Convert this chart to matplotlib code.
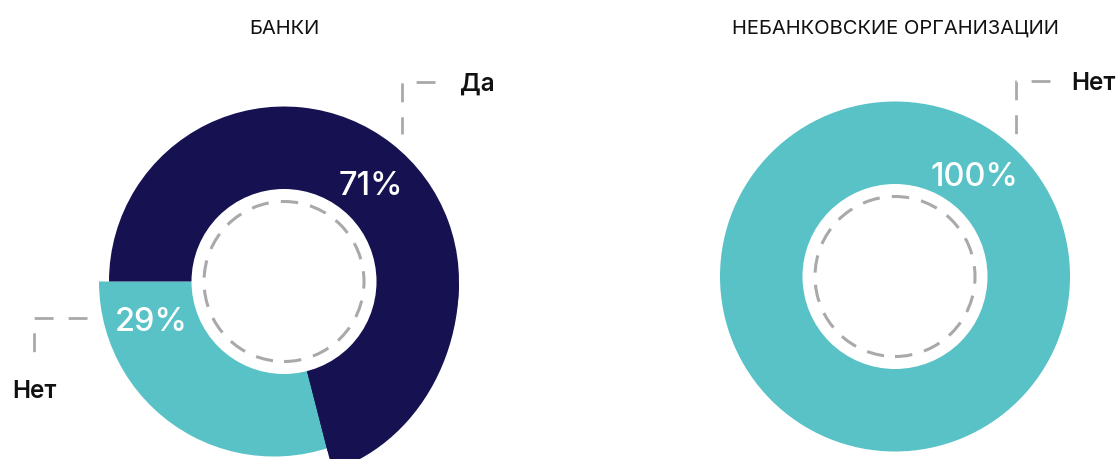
import matplotlib
matplotlib.use("Agg")
import matplotlib.pyplot as plt
from matplotlib.patches import Circle, Wedge, Ellipse

# ---- data ----
titles = ["БАНКИ", "НЕБАНКОВСКИЕ ОРГАНИЗАЦИИ"]
bank_categories = ["Да", "Нет"]
bank_values = [71, 29]
nonbank_categories = ["Нет"]
nonbank_values = [100]
pct_labels_bank = ["71%", "29%"]
pct_labels_nonbank = ["100%"]

DARK = "#161252"
TEAL = "#58C2C7"
GRAY = "#A9A9AB"
FONT = ["Inter", "DejaVu Sans"]

W, H = 1120, 460
fig = plt.figure(figsize=(W / 100, H / 100), dpi=100)
ax = fig.add_axes([0, 0, 1, 1])

def py(y):  # pixel-from-top -> data y
    return H - y

R = 175
R_IN = 92.5
R_DASH = 80

# ---- left donut (banks) ----
cL = (284, py(282.5))
wedges, _ = ax.pie(bank_values, colors=[DARK, TEAL], radius=R, center=cL,
                   startangle=180, counterclock=False, frame=True,
                   wedgeprops=dict(linewidth=0))
wedges[0].set_zorder(2)
wedges[1].set_zorder(1)
# teal slice sits slightly to the left, tucked under the dark slice
wedges[1].set_center((cL[0] - 10, cL[1]))
wedges[1].set_theta2(wedges[1].theta2 + 20)
# the dark slice swells smoothly towards its lower end
sector = Wedge(cL, R * 1.3, wedges[0].theta1, 0, transform=ax.transData)
bulge = Ellipse(cL, width=2 * R, height=2 * 197, angle=0,
                facecolor=DARK, edgecolor="none", zorder=2)
ax.add_patch(bulge)
bulge.set_clip_path(sector)
ax.add_patch(Circle(cL, R_IN, facecolor="white", edgecolor="none", zorder=3))
ax.add_patch(Circle(cL, R_DASH, facecolor="none", edgecolor=GRAY, lw=2.2,
                    linestyle=(0, (5.7, 4.0)), zorder=4))

# ---- right donut (non-banks) ----
cR = (895, py(277.5))
wedges2, _ = ax.pie(nonbank_values, colors=[TEAL], radius=R, center=cR,
                    startangle=90, counterclock=False, frame=True,
                    wedgeprops=dict(linewidth=0))
ax.add_patch(Circle(cR, R_IN, facecolor="white", edgecolor="none", zorder=3))
ax.add_patch(Circle(cR, R_DASH, facecolor="none", edgecolor=GRAY, lw=2.2,
                    linestyle=(0, (5.7, 4.0)), zorder=4))

# ---- titles ----
ax.text(cL[0], py(33.5), titles[0], ha="center", va="baseline", fontsize=14.5,
        family=FONT, color="#111111")
ax.text(cR[0], py(34), titles[1], ha="center", va="baseline", fontsize=14.5,
        family=FONT, color="#111111")

# ---- percentage labels ----
pct_kw = dict(ha="center", va="baseline", fontsize=23.5, family=FONT,
              fontweight="medium", color="white", zorder=5)
ax.text(371, py(195), pct_labels_bank[0], **pct_kw)
ax.text(151, py(331), pct_labels_bank[1], **pct_kw)
ax.text(974.5, py(186.5), pct_labels_nonbank[0], **pct_kw)

# ---- leader lines ----
lead_kw = dict(color=GRAY, lw=2.0, dashes=(6.8, 5.4), solid_capstyle="butt",
               dash_capstyle="butt", zorder=5)
ax.plot([435, 401.7, 401.7], [py(83), py(83), py(135)], **lead_kw)
ax.plot([87, 33.5, 33.5], [py(319.3), py(319.3), py(353)], **lead_kw)
ax.plot([1050, 1016, 1016], [py(82), py(82), py(135)], **lead_kw)

# ---- category labels ----
cat_kw = dict(ha="left", va="baseline", fontsize=17.5, family=FONT,
              fontweight="semibold", color="#111111")
ax.text(460, py(91), bank_categories[0], **cat_kw)
ax.text(12, py(398), bank_categories[1], **cat_kw)
ax.text(1071, py(90), nonbank_categories[0], **cat_kw)

ax.set_xlim(0, W)
ax.set_ylim(0, H)
ax.set_aspect("auto")
ax.axis("off")

fig.savefig("out.png", dpi=100, facecolor="white")
